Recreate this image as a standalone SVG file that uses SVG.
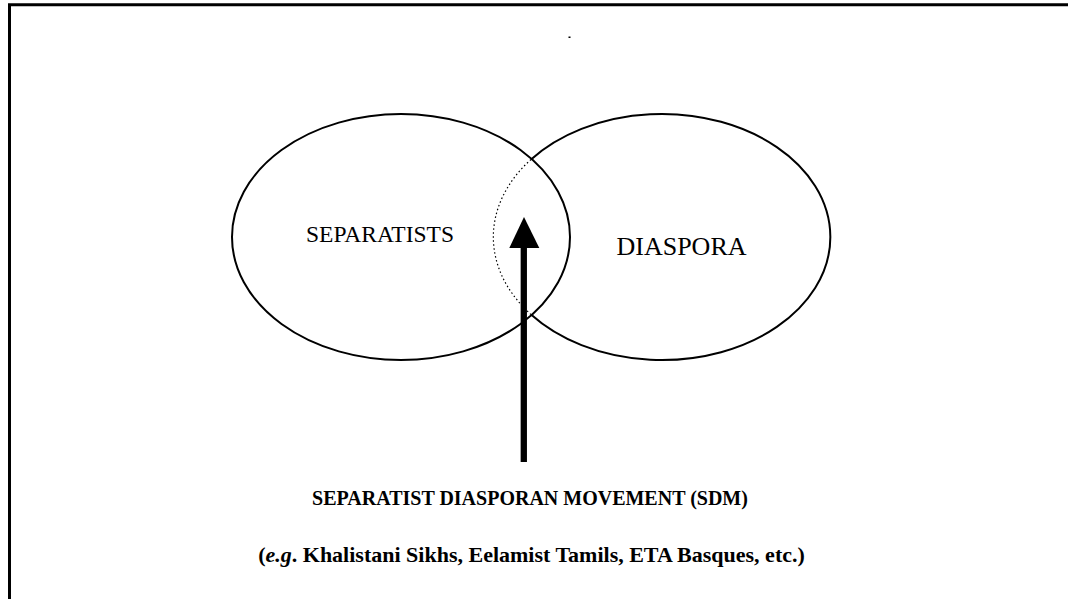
<svg xmlns="http://www.w3.org/2000/svg" width="1068" height="599" viewBox="0 0 1068 599">
<style>
.e{fill:none;stroke:#000;stroke-width:2}
.t{font-family:"Liberation Serif",serif;fill:#000}
.b{font-weight:bold}
</style>
<rect width="1068" height="599" fill="#fff"/>
<g id="frame"><path d="M9.5 599V4.7H1068" fill="none" stroke="#000" stroke-width="3"/></g>
<rect x="568.5" y="36.5" width="2" height="1.5" fill="#000"/>
<g id="separatists"><ellipse class="e" cx="401" cy="237" rx="169" ry="123"/>
<text class="t" x="380" y="242" font-size="23.5" text-anchor="middle">SEPARATISTS</text></g>
<g id="diaspora"><path class="e" d="M531 159.5A168.5 123 0 1 1 531 314.5"/>
<path d="M531 159.5A168.5 123 0 0 0 531 314.5" fill="none" stroke="#000" stroke-width="1.2" stroke-dasharray="1.5 2.5"/>
<text class="t" x="681.5" y="255" font-size="26" text-anchor="middle">DIASPORA</text></g>
<g id="connectors"><line x1="523.8" y1="462" x2="523.8" y2="245" stroke="#000" stroke-width="6.3"/><polygon points="524,217 509.3,248 539.3,248" fill="#000"/></g>
<g id="sdm"><text class="t b" x="530" y="505" font-size="20" text-anchor="middle">SEPARATIST DIASPORAN MOVEMENT (SDM)</text>
<text class="t b" x="531.5" y="562" font-size="22" text-anchor="middle">(<tspan font-style="italic">e.g</tspan>. Khalistani Sikhs, Eelamist Tamils, ETA Basques, etc.)</text></g>
</svg>
